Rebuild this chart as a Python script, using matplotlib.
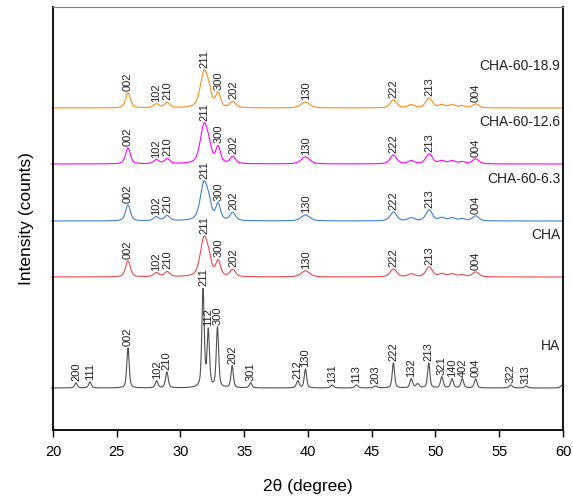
import numpy as np
import matplotlib.pyplot as plt

plt.rcParams['font.family'] = ['Liberation Sans', 'DejaVu Sans']

# 2theta grid
two_theta = np.arange(19.9, 60.0, 0.02)

# HA reference peaks: position, height, fwhm
ha_pos = [21.8, 22.9, 25.88, 28.13, 28.93, 31.77, 32.18, 32.9, 34.05, 35.5,
          39.2, 39.8, 41.9, 43.8, 45.3, 46.7, 48.1, 48.6, 49.47, 50.5,
          51.3, 52.1, 53.15, 55.9, 57.1, 59.95]
ha_height = [5, 6, 40, 7, 16, 98, 56, 60, 22, 5,
             7, 19, 3, 3, 2, 25, 9, 4, 25, 11,
             9, 9, 9, 3, 2, 3]
ha_fwhm = [0.25, 0.25, 0.22, 0.25, 0.25, 0.22, 0.22, 0.22, 0.22, 0.25,
           0.25, 0.22, 0.3, 0.3, 0.3, 0.22, 0.25, 0.3, 0.22, 0.25,
           0.25, 0.25, 0.25, 0.3, 0.3, 0.3]

# broadened peaks of the CHA samples
cha_pos = [25.88, 28.1, 28.95, 31.85, 32.25, 32.95, 34.1, 39.8, 46.7, 48.1,
           49.5, 50.5, 51.3, 52.1, 53.15]
cha_fwhm = [0.45, 0.5, 0.5, 0.7, 0.45, 0.45, 0.5, 0.8, 0.6, 0.6,
            0.6, 0.6, 0.6, 0.6, 0.6]
h_cha = [16, 4, 5, 39, 10, 15, 7, 6, 8, 3, 10, 3, 3, 2, 5]
h_cha_6 = [16, 4, 5, 38, 10, 16, 8, 6, 9, 3, 11, 3, 3, 2, 5]
h_cha_12 = [16, 4, 5, 39, 10, 16, 7, 7, 9, 3, 10, 3, 3, 2, 5]
h_cha_18 = [15, 4, 5, 36, 10, 14, 6, 6, 8, 3, 10, 3, 3, 2, 4]

samples = ['HA', 'CHA', 'CHA-60-6.3', 'CHA-60-12.6', 'CHA-60-18.9']
offsets = [42, 153, 209, 266, 322]
colors = ['#505050', '#F0464E', '#3C7EDC', '#FF00FF', '#FF8A1C']

ha_labels = ['200', '111', '002', '102', '210', '211', '112', '300', '202', '301',
             '212', '130', '131', '113', '203', '222', '132', '213', '321', '140',
             '402', '004', '322', '313']
ha_label_pos = [21.8, 22.9, 25.85, 28.13, 28.93, 31.77, 32.18, 32.9, 34.05, 35.5,
                39.15, 39.8, 41.9, 43.8, 45.3, 46.7, 48.1, 49.47, 50.5, 51.3,
                52.1, 53.15, 55.9, 57.1]
cha_labels = ['002', '102', '210', '211', '300', '202', '130', '222', '213', '004']
cha_label_pos = [25.88, 28.1, 28.95, 31.85, 33.0, 34.15, 39.85, 46.7, 49.5, 53.15]


def pattern(pos, height, fwhm):
    y = np.zeros_like(two_theta)
    for p, h, w in zip(pos, height, fwhm):
        g = np.exp(-4 * np.log(2) * ((two_theta - p) / w) ** 2)
        l = 1 / (1 + 4 * ((two_theta - p) / w) ** 2)
        y += h * (0.5 * g + 0.5 * l)
    return y


curves = [pattern(ha_pos, ha_height, ha_fwhm),
          pattern(cha_pos, h_cha, cha_fwhm),
          pattern(cha_pos, h_cha_6, cha_fwhm),
          pattern(cha_pos, h_cha_12, cha_fwhm),
          pattern(cha_pos, h_cha_18, cha_fwhm)]

fig = plt.figure(figsize=(5.73, 5.0), dpi=100)
ax = fig.add_axes([0.0925, 0.14, 0.89, 0.846])

for i, (name, off, col, y) in enumerate(zip(samples, offsets, colors, curves)):
    ax.plot(two_theta, y + off, color=col, lw=0.8, clip_on=False)
    if name == 'HA':
        labels, lpos = ha_labels, ha_label_pos
    else:
        labels, lpos = cha_labels, cha_label_pos
    for lab, p in zip(labels, lpos):
        m = np.abs(two_theta - p) < 0.12
        top = y[m].max() + off
        ax.text(p, top + 2, lab, rotation=90, ha='center', va='bottom',
                fontsize=8, color='#202020')
    ax.text(59.8, off + 42, name, ha='right', va='center', fontsize=10,
            color='#202020')

ax.set_xlim(20, 60)
ax.set_ylim(0, 423)
ax.set_xticks(np.arange(20, 61, 5))
ax.set_yticks([])
ax.tick_params(axis='x', direction='out', length=5, width=1, labelsize=10.5, pad=6)
ax.set_xlabel('2θ (degree)', fontsize=12.5, labelpad=14)
ax.set_ylabel('Intensity (counts)', fontsize=12.5, labelpad=14)

ax.spines['top'].set_color('#808080')
for s in ['left', 'bottom', 'right']:
    ax.spines[s].set_linewidth(1.3)

plt.savefig('out.png', dpi=100)
